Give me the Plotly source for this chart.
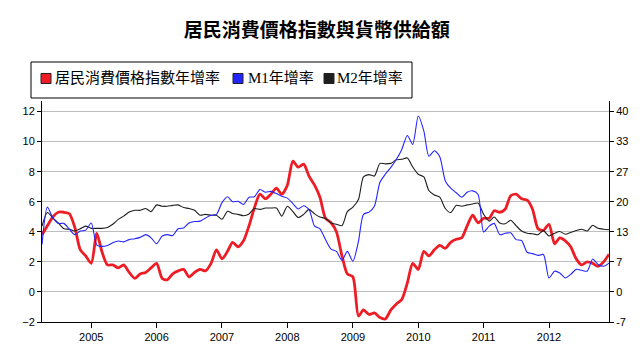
import pandas as pd
import plotly.graph_objects as go

# Monthly data, April 2004 - December 2012
start_month = "2004-04-01"
n_months = 105
dates = pd.date_range(start_month, periods=n_months, freq="MS")

cpi = [
    3.8, 4.4, 5.0, 5.3, 5.3, 5.2, 4.3, 2.8, 2.4,
    1.9, 3.9, 2.7, 1.8, 1.8, 1.6, 1.8, 1.3, 0.9, 1.2, 1.3, 1.6,
    1.9, 0.9, 0.8, 1.2, 1.4, 1.5, 1.0, 1.3, 1.5, 1.4, 1.9, 2.8,
    2.2, 2.7, 3.3, 3.0, 3.4, 4.4, 5.6, 6.5, 6.2, 6.5, 6.9, 6.5,
    7.1, 8.7, 8.3, 8.5, 7.7, 7.1, 6.3, 4.9, 4.6, 4.0, 2.4, 1.2,
    1.0, -1.6, -1.2, -1.5, -1.4, -1.7, -1.8, -1.2, -0.8, -0.5, 0.6, 1.9,
    1.5, 2.7, 2.4, 2.8, 3.1, 2.9, 3.3, 3.5, 3.6, 4.4, 5.1, 4.6,
    4.9, 4.9, 5.4, 5.3, 5.5, 6.4, 6.5, 6.2, 6.1, 5.5, 4.2, 4.1,
    4.5, 3.2, 3.6, 3.4, 3.0, 2.2, 1.8, 2.0, 1.9, 1.7, 2.0, 2.5,
]

m1 = [
    10.5, 18.8, 16.4, 15.2, 15.2, 13.9, 12.7, 13.5, 13.7,
    15.3, 10.4, 10.1, 10.3, 10.9, 11.3, 11.1, 11.6, 11.8, 12.1, 12.7, 12.0,
    10.7, 12.4, 12.7, 12.5, 14.0, 14.2, 15.3, 15.6, 15.7, 16.4, 17.0, 17.2,
    19.8, 21.1, 20.0, 20.1, 19.4, 21.0, 21.1, 22.7, 22.1, 22.3, 21.8, 21.2,
    20.8, 19.6, 18.4, 19.1, 18.3, 14.6, 14.0, 11.6, 9.5, 9.0, 7.0, 9.0,
    6.8, 11.2, 17.2, 17.7, 19.0, 24.3, 26.1, 27.6, 29.4, 31.6, 34.7, 32.7,
    39.0, 35.7, 30.1, 31.3, 30.0, 24.6, 23.0, 22.0, 21.0, 22.1, 22.4, 21.6,
    13.3, 14.6, 15.2, 12.7, 13.0, 13.1, 11.6, 11.4, 8.8, 8.5, 8.1, 8.3,
    3.1, 4.6, 4.2, 3.1, 3.9, 5.0, 4.8, 4.6, 7.3, 6.1, 5.7, 6.4,
]

m2 = [
    14.6, 17.6, 16.4, 15.3, 14.0, 13.9, 13.5, 14.0, 14.6,
    14.1, 14.1, 14.1, 14.3, 15.0, 16.1, 16.8, 17.7, 18.1, 18.1, 18.5, 17.8,
    19.3, 19.0, 19.0, 19.2, 19.3, 18.7, 18.5, 18.1, 17.0, 17.2, 17.0, 17.0,
    16.1, 17.9, 17.4, 17.2, 16.9, 17.3, 18.5, 18.3, 18.6, 18.6, 18.6, 16.8,
    19.0, 17.8, 16.5, 17.2, 18.3, 17.3, 16.6, 16.3, 15.3, 15.0, 14.7, 17.8,
    18.8, 20.5, 25.5, 26.0, 25.7, 28.5, 28.4, 28.5, 29.3, 29.4, 29.7, 27.7,
    26.1, 25.5, 22.5, 21.5, 21.0, 18.5, 17.6, 19.2, 19.0, 19.3, 19.5, 19.7,
    17.2, 15.7, 16.6, 15.3, 15.1, 15.9, 14.7, 13.5, 13.0, 12.9, 12.7, 13.6,
    12.4, 13.0, 13.4, 12.8, 13.2, 13.6, 13.9, 13.5, 14.8, 14.1, 13.9, 13.8,
]

title_text = "居民消費價格指數與貨幣供給額"
series_names = ["居民消費價格指數年增率", "M1年增率", "M2年增率"]
colors = ["#EE1D25", "#2424FF", "#1E1E1E"]

left_ticks = [-2, 0, 2, 4, 6, 8, 10, 12]
right_tickvals = [-20 / 3, 0, 20 / 3, 40 / 3, 20, 80 / 3, 100 / 3, 40]
right_ticktext = ["-7", "0", "7", "13", "20", "27", "33", "40"]
left_range = [-2, 12.7]
ratio = 10 / 3
right_range = [left_range[0] * ratio, left_range[1] * ratio]

W, H = 640, 356
ML, MR, MT, MB = 42, 31, 101, 34
PW, PH = W - ML - MR, H - MT - MB


def px_x(px):
    return (px - ML) / PW


def px_y(py):
    return (H - MB - py) / PH


fig = go.Figure()

fig.add_trace(go.Scatter(x=dates, y=m2, mode="lines", yaxis="y2", name=series_names[2],
                         line=dict(color=colors[2], width=1.1, shape="spline", smoothing=0.7),
                         showlegend=False, hoverinfo="skip"))
fig.add_trace(go.Scatter(x=dates, y=m1, mode="lines", yaxis="y2", name=series_names[1],
                         line=dict(color=colors[1], width=1.1, shape="spline", smoothing=0.7),
                         showlegend=False, hoverinfo="skip"))
fig.add_trace(go.Scatter(x=dates, y=cpi, mode="lines", yaxis="y", name=series_names[0],
                         line=dict(color=colors[0], width=2.8, shape="spline", smoothing=0.7),
                         showlegend=False, hoverinfo="skip"))

# Legend box drawn as layout shapes/annotations
legend_font = dict(family="Liberation Serif, 'Noto Sans CJK TC', serif", size=15, color="black")
shapes = [dict(type="rect", xref="paper", yref="paper",
               x0=px_x(31), x1=px_x(412), y0=px_y(98), y1=px_y(62),
               line=dict(color="black", width=1), fillcolor="white", layer="above")]
annotations = []
swatch_x = [41, 233, 324]
text_x = [54, 247, 336]
cy = 78.5
for sx, tx, name, c in zip(swatch_x, text_x, series_names, colors):
    shapes.append(dict(type="rect", xref="paper", yref="paper",
                       x0=px_x(sx), x1=px_x(sx + 10), y0=px_y(cy + 5), y1=px_y(cy - 5),
                       line=dict(color="#222222", width=1), fillcolor=c, layer="above"))
    annotations.append(dict(xref="paper", yref="paper", x=px_x(tx), y=px_y(cy),
                            xanchor="left", yanchor="middle", text=name, showarrow=False,
                            font=legend_font, borderpad=0))

tick_font = dict(family="Liberation Sans, Arial, sans-serif", size=11, color="black")

fig.update_layout(
    width=W, height=H,
    margin=dict(l=ML, r=MR, t=MT, b=MB, autoexpand=False),
    paper_bgcolor="white", plot_bgcolor="white",
    title=dict(text=title_text, x=0.495, xanchor="center", y=1 - 30 / H, yanchor="middle",
               font=dict(family="Noto Sans CJK TC", size=19, color="black", weight="bold")),
    showlegend=False,
    shapes=shapes,
    annotations=annotations,
    xaxis=dict(type="date", range=[dates[0], dates[-1]], tick0="2005-01-01", dtick="M12",
               tickformat="%Y", ticks="outside", ticklen=5, tickcolor="black",
               showline=True, linecolor="black", linewidth=1, showgrid=False,
               zeroline=False, tickfont=tick_font),
    yaxis=dict(range=left_range, tickvals=left_ticks, ticks="outside", ticklen=4,
               tickcolor="black", showline=True, linecolor="black", linewidth=1,
               showgrid=True, gridcolor="#BEBEBE", gridwidth=1, zeroline=False,
               tickfont=tick_font),
    yaxis2=dict(range=right_range, tickvals=right_tickvals, ticktext=right_ticktext,
                overlaying="y", side="right", ticks="outside", ticklen=4, tickcolor="black",
                showline=True, linecolor="black", linewidth=1, showgrid=False,
                zeroline=False, tickfont=tick_font),
)

fig.write_html("out.html",
               config={"displayModeBar": False, "staticPlot": True},
               post_script="document.body.style.margin='0';document.body.style.overflow='hidden';")
